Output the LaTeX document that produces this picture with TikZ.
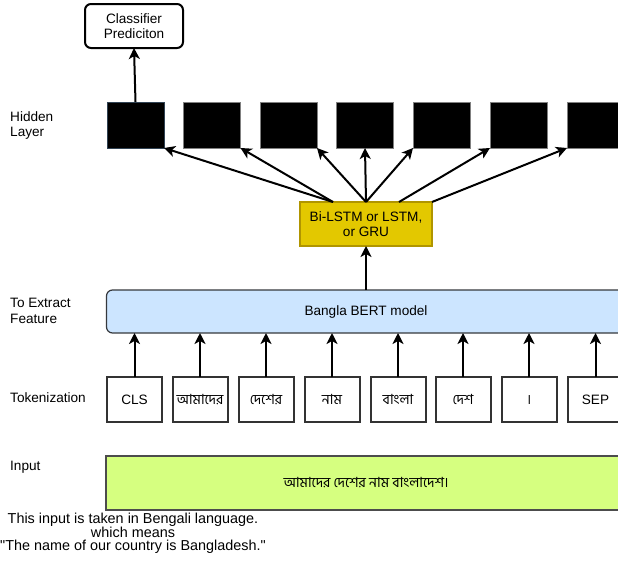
\documentclass[tikz,border=0pt]{standalone}
\usepackage{fontspec}
\setmainfont{Liberation Sans}[Ligatures=TeXOff]
\newfontfamily\bnfont[Script=Bengali]{Hind Siliguri}
\usetikzlibrary{arrows.meta,positioning,calc}
\definecolor{hgold}{HTML}{E3C800}
\definecolor{hgoldd}{HTML}{B09500}
\definecolor{bblue}{HTML}{CCE5FF}
\definecolor{bdark}{HTML}{36393D}
\definecolor{ilime}{HTML}{D6FF80}
\definecolor{sqedge}{HTML}{314354}

\begin{document}
\begin{tikzpicture}[x=1pt,y=-1pt,
  font=\fontsize{13.6}{15}\selectfont,
  lbl/.style={anchor=west,align=left,inner sep=0pt,font=\fontsize{13.6}{15.5}\selectfont},
  hid/.style={draw=gray,line width=1pt,fill=black,minimum width=57pt,minimum height=46pt,inner sep=0pt,outer sep=0pt},
  tok/.style={draw=black!80,line width=2pt,fill=white,minimum width=55pt,minimum height=45pt,inner sep=0pt,outer sep=0pt},
  bn/.style={font=\bnfont\fontsize{14}{15}\selectfont},
  arr/.style={-{Stealth[length=11pt,width=11pt,inset=3pt]},line width=2pt}]
\useasboundingbox (0,0) rectangle (618,573);
\clip (0,0) rectangle (618,573);

% top of the stack
\node[draw,line width=2pt,rounded corners=6pt,fill=white,minimum width=98pt,minimum height=44pt,
      inner sep=0pt,outer sep=0pt,align=center] (cls) at (134,26) {Classifier\\Prediciton};

% hidden layer
\node[lbl] (hlbl) at (10,125.5) {Hidden\\Layer};
\node[hid,draw=sqedge] (h1) at (135.5,125) {};
\node[hid] (h2) at (212,125) {};
\node[hid] (h3) at (288.5,125) {};
\node[hid] (h4) at (365,125) {};
\node[hid] (h5) at (441.5,125) {};
\node[hid] (h6) at (518.5,125) {};
\node[hid] (h7) at (595.5,125) {};
\draw[arr] (h1.north) -- (cls.south);

% recurrent block
\node[draw=hgoldd,line width=1.2pt,fill=hgold,minimum width=132pt,minimum height=44pt,inner sep=0pt,
      outer sep=0pt,align=center] (rnn) at (366,224) {Bi-LSTM or LSTM,\\or GRU};
\coordinate (rq1) at ($(rnn.north west)!.25!(rnn.north east)$);
\coordinate (rq3) at ($(rnn.north west)!.75!(rnn.north east)$);
\draw[arr] (rq1) -- (h1.south east);
\draw[arr] (rq1) -- (h2.south east);
\draw[arr] (rnn.north) -- (h3.south east);
\draw[arr] (rnn.north) -- (h4.south);
\draw[arr] (rnn.north) -- (h5.south west);
\draw[arr] (rq3) -- (h6.south west);
\draw[arr] (rnn.north east) -- (h7.south west);

% feature extractor
\node[lbl] (flbl) at (10,311) {To Extract\\Feature};
\node[draw=bdark,line width=1.2pt,fill=bblue,rounded corners=6pt,minimum width=519pt,minimum height=43pt,
      inner sep=0pt,outer sep=0pt] (bert) at (366,311.5) {Bangla BERT model};
\draw[arr] (bert.north -| rnn.south) -- (rnn.south);

% tokens
\node[lbl] (tlbl) at (10,398) {Tokenization};
\node[tok] (t1) at (134.5,399.5) {CLS};
\node[tok,bn] (t2) at (200,399.5) {আমাদের};
\node[tok,bn] (t3) at (266,399.5) {দেশের};
\node[tok,bn] (t4) at (332,399.5) {নাম};
\node[tok,bn] (t5) at (398,399.5) {বাংলা};
\node[tok,bn] (t6) at (463,399.5) {দেশ};
\node[tok,bn] (t7) at (529,399.5) {।};
\node[tok] (t8) at (595.5,399.5) {SEP};
\draw[arr] (t1.north) -- (t1.north |- bert.south);
\draw[arr] (t2.north) -- (t2.north |- bert.south);
\draw[arr] (t3.north) -- (t3.north |- bert.south);
\draw[arr] (t4.north) -- (t4.north |- bert.south);
\draw[arr] (t5.north) -- (t5.north |- bert.south);
\draw[arr] (t6.north) -- (t6.north |- bert.south);
\draw[arr] (t7.north) -- (t7.north |- bert.south);
\draw[arr] (t8.north) -- (t8.north |- bert.south);

% input sentence
\node[lbl] (ilbl) at (10,467) {Input};
\node[draw=black!70,line width=1.5pt,fill=ilime,minimum width=520pt,minimum height=54pt,inner sep=0pt,
      outer sep=0pt,bn] (inp) at (366,483) {আমাদের দেশের নাম বাংলাদেশ।};
\node[align=center,inner sep=0pt,font=\fontsize{14.4}{13.6}\selectfont] (note) at (133,533.5)
  {This input is taken in Bengali language.\\which means\\"The name of our country is Bangladesh."};
\end{tikzpicture}
\end{document}
